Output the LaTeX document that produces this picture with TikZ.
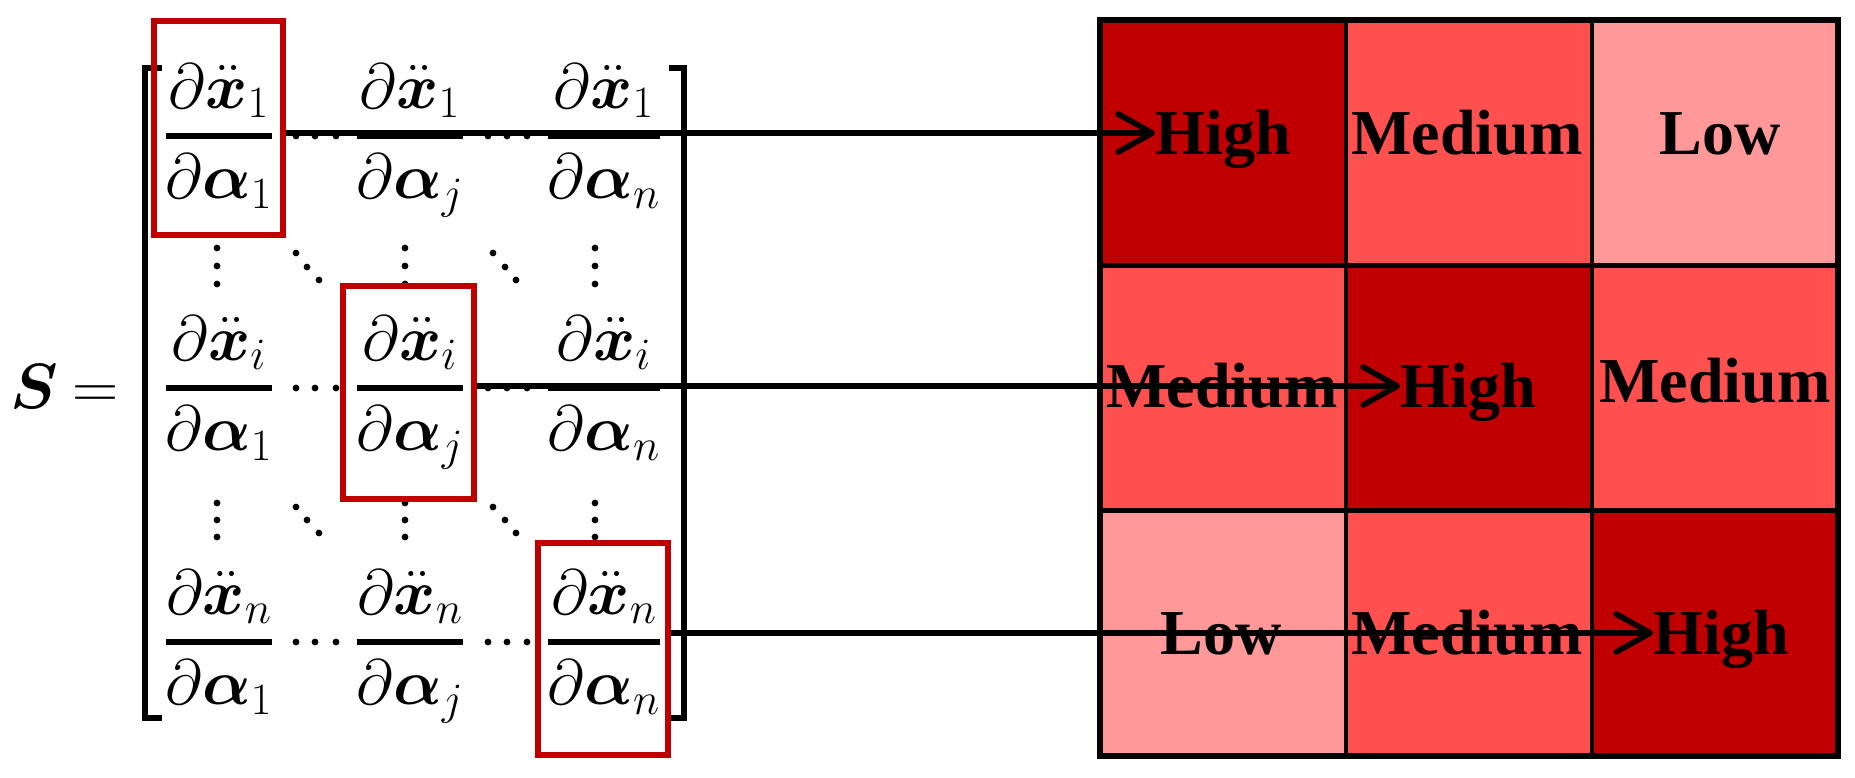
\RequirePackage{fix-cm}
\documentclass[tikz,border=0pt]{standalone}
\usepackage{amsmath}
\usepackage{fontspec}
\usepackage{bm}
\newfontfamily\cellfont{Liberation Serif}
\usetikzlibrary{arrows.meta}
\definecolor{dkred}{HTML}{C00000}
\definecolor{mdred}{HTML}{FF5050}
\definecolor{ltred}{HTML}{FF9999}
\newcommand{\pfr}[2]{\genfrac{}{}{2.6pt}{0}{#1}{#2}}
\begin{document}
\begin{tikzpicture}[x=0.5pt,y=-0.5pt,
  cell/.style={draw=black,line width=2.2pt,minimum width=123pt,minimum height=122.67pt,inner sep=0pt,outer sep=0pt},
  lbl/.style={font=\fontsize{32}{38}\selectfont\cellfont\bfseries,inner sep=0pt,text height=21pt,text depth=0pt},
  ent/.style={font=\fontsize{32}{38}\selectfont,inner sep=0pt,anchor=base},
  rbox/.style={draw=dkred,line width=2.8pt,inner sep=0pt},
  arr/.style={line width=2.8pt,-{Straight Barb[length=17pt,width=19pt,round]}},
  brk/.style={line width=2.9pt}]
\useasboundingbox (0,0) rectangle (1855,777);
% heat map cells
\node[cell,fill=dkred] (c11) at (1223,142.67) {};
\node[cell,fill=mdred] (c12) at (1469,142.67) {};
\node[cell,fill=ltred] (c13) at (1715,142.67) {};
\node[cell,fill=mdred] (c21) at (1223,388) {};
\node[cell,fill=dkred] (c22) at (1469,388) {};
\node[cell,fill=mdred] (c23) at (1715,388) {};
\node[cell,fill=ltred] (c31) at (1223,633.33) {};
\node[cell,fill=mdred] (c32) at (1469,633.33) {};
\node[cell,fill=dkred] (c33) at (1715,633.33) {};
\draw[line width=2.6pt] (c11.north west) rectangle (c33.south east);
% labels
\node[lbl] (h1) at (1223,133) {High};
\node[lbl] (m12) at (1467,133) {Medium};
\node[lbl] (l13) at (1720,133) {Low};
\node[lbl] (m21) at (1222,386) {Medium};
\node[lbl] (h2) at (1468,386) {High};
\node[lbl] (m23) at (1715,381) {Medium};
\node[lbl] (l31) at (1221,633) {Low};
\node[lbl] (m32) at (1467,633) {Medium};
\node[lbl] (h3) at (1721,633) {High};
% S =
\node[ent] (S) at (34,408) {$\bm{S}$};
\node[ent] (eq) at (96,408) {$=$};
% matrix entries
\node[ent] (e11) at (219,152) {$\pfr{\partial\bm{\ddot{x}}_1}{\partial\bm{\alpha}_1}$};
\node[ent] (e12) at (410,152) {$\pfr{\partial\bm{\ddot{x}}_1}{\partial\bm{\alpha}_j}$};
\node[ent] (e13) at (604,152) {$\pfr{\partial\bm{\ddot{x}}_1}{\partial\bm{\alpha}_n}$};
\node[ent] (e21) at (219,404) {$\pfr{\partial\bm{\ddot{x}}_i}{\partial\bm{\alpha}_1}$};
\node[ent] (e22) at (410,404) {$\pfr{\partial\bm{\ddot{x}}_i}{\partial\bm{\alpha}_j}$};
\node[ent] (e23) at (604,404) {$\pfr{\partial\bm{\ddot{x}}_i}{\partial\bm{\alpha}_n}$};
\node[ent] (e31) at (219,658) {$\pfr{\partial\bm{\ddot{x}}_n}{\partial\bm{\alpha}_1}$};
\node[ent] (e32) at (410,658) {$\pfr{\partial\bm{\ddot{x}}_n}{\partial\bm{\alpha}_j}$};
\node[ent] (e33) at (604,658) {$\pfr{\partial\bm{\ddot{x}}_n}{\partial\bm{\alpha}_n}$};
% dots
\foreach \x in {217,405,595} \foreach \y in {248,266,284,503,520,537}
  \fill (\x,\y) circle[radius=1.7pt];
\foreach \x/\y in {296/253,307/267,319/280,493/253,505/267,516/280,296/507,307/520,319/533,493/507,505/520,516/533}
  \fill (\x,\y) circle[radius=1.7pt];
\foreach \y in {136,388,642} \foreach \x in {296,315,336,488,507,527}
  \fill (\x,\y) circle[radius=1.7pt];
% brackets
\draw[brk] (162,68) -- (145,68) -- (145,718) -- (162,718);
\draw[brk] (669,68) -- (684,68) -- (684,718) -- (669,718);
% red boxes
\node[rbox,minimum width=64.5pt,minimum height=107pt] (b1) at (218.5,128) {};
\node[rbox,minimum width=65.5pt,minimum height=106.5pt] (b2) at (408.5,392.5) {};
\node[rbox,minimum width=65pt,minimum height=106pt] (b3) at (603,649) {};
% arrows
\draw[arr] (b1.east |- h1.west) -- (h1.west);
\draw[arr] (b2.east |- h2.west) -- (h2.west);
\draw[arr] (b3.east |- h3.west) -- (h3.west);
\end{tikzpicture}
\end{document}
